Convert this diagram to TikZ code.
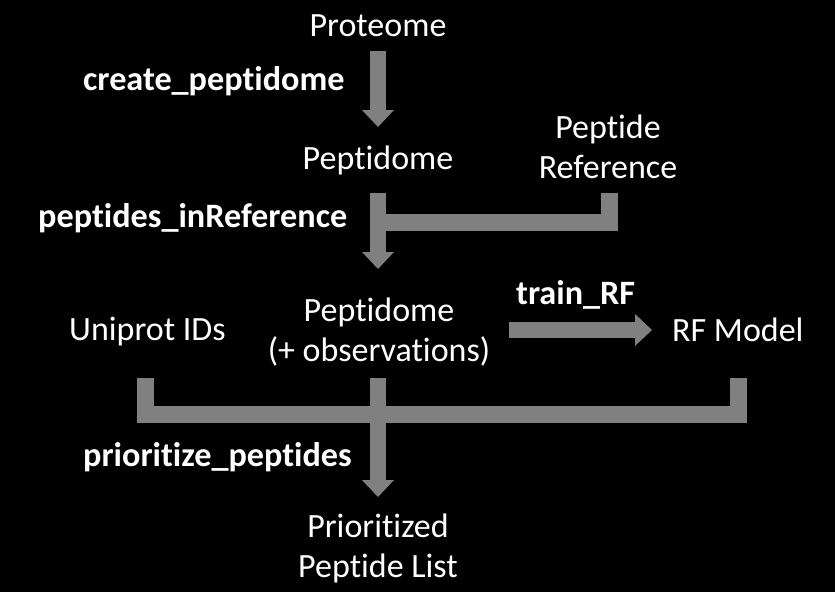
\documentclass[tikz,border=0pt]{standalone}
\usepackage{fontspec}
\setmainfont{Carlito}[Ligatures=NoCommon]
\usetikzlibrary{arrows.meta}
\definecolor{arrowgray}{HTML}{808080}
\begin{document}
\begin{tikzpicture}[x=1pt,y=-1pt,
  lbl/.style={text=white,inner sep=0pt,font=\fontsize{34}{40}\selectfont,align=center},
  fnlbl/.style={text=white,inner sep=0pt,font=\fontsize{34.2}{40}\selectfont\bfseries,anchor=base west},
  blockarrow/.style={draw=arrowgray,line width=16pt,-{Triangle[width=32pt,length=17pt,line width=0pt]}},
  blockbar/.style={draw=arrowgray,line width=17pt,line join=miter,line cap=butt}]
\fill[black] (0,0) rectangle (835,592);
\useasboundingbox (0,0) rectangle (835,592);
% texts
\node[lbl,anchor=base] (proteome) at (378,36) {Proteome};
\node[fnlbl] (createlbl) at (83,90) {create\_peptidome};
\node[lbl,anchor=base] (peptidome) at (378,169) {Peptidome};
\node[lbl,anchor=base] (pepref) at (608,178) {Peptide\\Reference};
\node[fnlbl] (inreflbl) at (38,227) {peptides\_inReference};
\node[lbl,anchor=base] (pepobs) at (379,361) {Peptidome\\(+ observations)};
\node[lbl,anchor=base west] (uniprot) at (69,340) {Uniprot IDs};
\node[fnlbl] (trainlbl) at (516,304) {train\_RF};
\node[lbl,anchor=base west] (rfmodel) at (672,341) {RF Model};
\node[fnlbl] (priolbl) at (83,466) {prioritize\_peptides};
\node[lbl,anchor=base] (priolist) at (378,577) {Prioritized\\Peptide List};
% arrow end points
\coordinate (a1s) at (378,51);
\coordinate (a1e) at (378,127);
\coordinate (a2s) at (378,193);
\coordinate (a2e) at (378,269);
\coordinate (refs) at (609,193);
\coordinate (refj) at (609,222);
\coordinate (a2j) at (378,222);
\coordinate (trs) at (509,330);
\coordinate (tre) at (652,330);
\coordinate (unis) at (145,378);
\coordinate (unij) at (145,414);
\coordinate (rfs) at (738,378);
\coordinate (rfj) at (738,414);
\coordinate (a3s) at (378,378);
\coordinate (a3e) at (378,497);
% connectors
\draw[blockarrow] (a1s) -- (a1e);
\draw[blockbar] (refs) -- (refj) -- (a2j);
\draw[blockarrow] (a2s) -- (a2e);
\draw[blockarrow] (trs) -- (tre);
\draw[blockbar] (unis) -- (unij) -- (rfj) -- (rfs);
\draw[blockarrow] (a3s) -- (a3e);
\end{tikzpicture}
\end{document}
